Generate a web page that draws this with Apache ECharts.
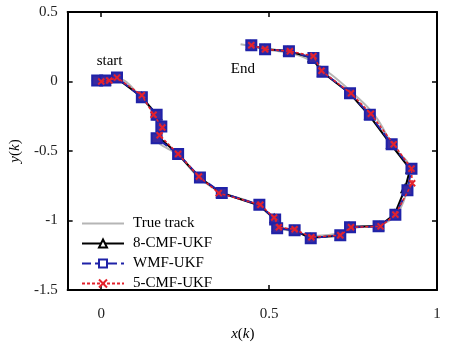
<!DOCTYPE html>
<html><head><meta charset="utf-8">
<script src="https://cdn.jsdelivr.net/npm/echarts@6/dist/echarts.min.js"></script>
<style>html,body{margin:0;padding:0;background:#fff}#c{width:452px;height:347px}</style>
</head><body><div id="c"></div>
<script>
// Trajectories x(k), y(k)
const trueX = [-0.029, 0.012, 0.047, 0.121, 0.162, 0.176, 0.168, 0.229, 0.294, 0.359, 0.471, 0.518, 0.529, 0.576, 0.624, 0.712, 0.741, 0.826, 0.876, 0.906, 0.918, 0.871, 0.815, 0.753, 0.682, 0.615, 0.559, 0.488, 0.447, 0.415];
const trueY = [0.007, 0.007, 0.021, -0.120, -0.246, -0.331, -0.415, -0.528, -0.697, -0.796, -0.894, -1.007, -1.056, -1.077, -1.113, -1.092, -1.056, -1.035, -0.965, -0.824, -0.627, -0.472, -0.246, -0.092, 0.056, 0.162, 0.204, 0.232, 0.254, 0.268];

const cmf8X = [-0.005, 0.015, 0.045, 0.120, 0.168, 0.178, 0.170, 0.228, 0.292, 0.356, 0.470, 0.515, 0.522, 0.574, 0.622, 0.710, 0.738, 0.828, 0.874, 0.905, 0.920, 0.862, 0.797, 0.740, 0.657, 0.628, 0.556, 0.487, 0.445];
const cmf8Y = [0.005, 0.005, 0.025, -0.110, -0.245, -0.330, -0.400, -0.520, -0.690, -0.800, -0.890, -0.985, -1.050, -1.070, -1.125, -1.110, -1.045, -1.040, -0.955, -0.770, -0.630, -0.450, -0.240, -0.085, 0.070, 0.170, 0.220, 0.233, 0.262];

const wmfX = [-0.012, 0.012, 0.047, 0.121, 0.165, 0.179, 0.165, 0.229, 0.294, 0.359, 0.471, 0.518, 0.524, 0.576, 0.624, 0.712, 0.741, 0.826, 0.876, 0.912, 0.924, 0.865, 0.800, 0.741, 0.659, 0.632, 0.559, 0.488, 0.447];
const wmfY = [0.007, 0.007, 0.028, -0.113, -0.239, -0.324, -0.408, -0.521, -0.690, -0.803, -0.887, -0.993, -1.056, -1.070, -1.127, -1.106, -1.049, -1.042, -0.958, -0.782, -0.627, -0.451, -0.239, -0.085, 0.070, 0.169, 0.218, 0.232, 0.261];

const cmf5X = [0.000, 0.024, 0.047, 0.121, 0.156, 0.182, 0.174, 0.229, 0.291, 0.350, 0.474, 0.515, 0.529, 0.576, 0.626, 0.712, 0.744, 0.832, 0.876, 0.926, 0.924, 0.871, 0.803, 0.744, 0.656, 0.632, 0.562, 0.488, 0.447];
const cmf5Y = [0.000, 0.007, 0.028, -0.099, -0.239, -0.331, -0.387, -0.521, -0.683, -0.803, -0.887, -0.979, -1.049, -1.063, -1.120, -1.106, -1.049, -1.042, -0.958, -0.732, -0.627, -0.451, -0.232, -0.085, 0.077, 0.183, 0.218, 0.232, 0.261];

const xTickValues = [0, 0.5, 1];
const seriesNames = ['True track', '8-CMF-UKF', 'WMF-UKF', '5-CMF-UKF'];
const notes = [{ text: 'start', x: 0.025, y: 0.148 }, { text: 'End', x: 0.422, y: 0.092 }];

function pairs(xs, ys) { return xs.map((x, i) => [x, ys[i]]); }

const serif = '"Liberation Serif", "Times New Roman", serif';
const chart = echarts.init(document.getElementById('c'), null, { renderer: 'canvas' });

const frameLine = { show: true, onZero: false, lineStyle: { color: '#000', width: 2 } };
const tick = { show: true, inside: true, length: 5, lineStyle: { color: '#000', width: 1.5 } };

chart.setOption({
  animation: false,
  backgroundColor: '#fff',
  grid: { left: 62, top: 12, right: 15, bottom: 51 },
  legend: {
    orient: 'vertical',
    left: 76,
    top: 211,
    itemWidth: 42,
    itemHeight: 10,
    itemGap: 5,
    data: [
      { name: seriesNames[0] },
      { name: seriesNames[1] },
      { name: seriesNames[2], itemStyle: { color: '#fff' } },
      { name: seriesNames[3] }
    ],
    textStyle: { fontFamily: serif, fontSize: 15, color: '#000', padding: [0, 0, 0, 4] }
  },
  xAxis: [{
    type: 'value', min: -0.1, max: 1, position: 'bottom',
    name: '{i|x}({i|k})', nameLocation: 'middle', nameGap: 37,
    nameTextStyle: { fontFamily: serif, fontSize: 15, color: '#000', padding: [0, 19, 0, 0],
      rich: { i: { fontFamily: serif, fontSize: 15, fontStyle: 'italic', color: '#000' } } },
    axisLine: frameLine,
    axisTick: Object.assign({}, tick, { customValues: xTickValues }),
    axisLabel: { customValues: xTickValues, margin: 17, fontFamily: serif, fontSize: 15, color: '#222' },
    splitLine: { show: false }
  }, {
    type: 'value', min: -0.1, max: 1, position: 'top',
    axisLine: frameLine,
    axisTick: Object.assign({}, tick, { customValues: xTickValues }),
    axisLabel: { show: false }, splitLine: { show: false }
  }],
  yAxis: [{
    type: 'value', min: -1.5, max: 0.5, interval: 0.5, position: 'left',
    name: '{i|y}({i|k})', nameLocation: 'middle', nameGap: 40, nameRotate: 90,
    nameTextStyle: { fontFamily: serif, fontSize: 15, color: '#000',
      rich: { i: { fontFamily: serif, fontSize: 15, fontStyle: 'italic', color: '#000' } } },
    axisLine: frameLine, axisTick: tick,
    axisLabel: { margin: 10, fontFamily: serif, fontSize: 15, color: '#222' },
    splitLine: { show: false }
  }, {
    type: 'value', min: -1.5, max: 0.5, interval: 0.5, position: 'right',
    axisLine: frameLine, axisTick: tick,
    axisLabel: { show: false }, splitLine: { show: false }
  }],
  series: [{
    name: seriesNames[0], type: 'line', data: pairs(trueX, trueY), smooth: 0.4,
    symbol: 'circle', showSymbol: false,
    lineStyle: { color: '#b5b5b5', width: 2 },
    itemStyle: { color: 'rgba(0,0,0,0)', borderWidth: 0 }, z: 1,
    markPoint: {
      symbol: 'circle', symbolSize: 0,
      label: { show: true, position: 'inside', fontFamily: serif, fontSize: 15, color: '#000', formatter: p => p.name },
      data: notes.map(n => ({ name: n.text, coord: [n.x, n.y] }))
    }
  }, {
    name: seriesNames[1], type: 'line', data: pairs(cmf8X, cmf8Y),
    symbol: 'triangle', symbolSize: 8, showAllSymbol: true,
    lineStyle: { color: '#000', width: 2 },
    itemStyle: { color: '#fff', borderColor: '#000', borderWidth: 1.5 }, z: 2
  }, {
    name: seriesNames[2], type: 'line', data: pairs(wmfX, wmfY),
    symbol: 'rect', symbolSize: 10, showAllSymbol: true,
    lineStyle: { color: '#1f22a8', width: 2, type: [9, 4] },
    itemStyle: { color: '#3a2aa0', borderColor: '#1f22a8', borderWidth: 2 }, z: 3
  }, {
    name: seriesNames[3], type: 'line', data: pairs(cmf5X, cmf5Y),
    symbol: 'path://M0,0L10,10M10,0L0,10', symbolSize: 6, showAllSymbol: true,
    lineStyle: { color: '#e3222c', width: 1.5, type: [3, 2] },
    itemStyle: { color: '#e3222c', borderColor: '#e3222c', borderWidth: 2 }, z: 4
  }]
});
</script>
</body></html>
